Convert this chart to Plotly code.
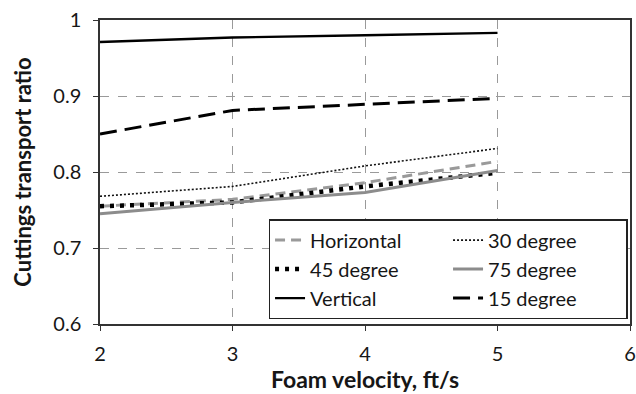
import plotly.graph_objects as go

# Foam velocity (ft/s)
velocity = [2, 3, 4, 5]

# Cuttings transport ratio by well inclination
horizontal = [0.755, 0.764, 0.786, 0.814]
deg30 = [0.768, 0.781, 0.808, 0.831]
deg45 = [0.755, 0.760, 0.781, 0.799]
deg75 = [0.745, 0.760, 0.773, 0.802]
vertical = [0.971, 0.977, 0.980, 0.983]
deg15 = [0.850, 0.881, 0.889, 0.897]

x_ticks = [2, 3, 4, 5, 6]
y_ticks = [0.6, 0.7, 0.8, 0.9, 1.0]
y_tick_text = ["0.6", "0.7", "0.8", "0.9", "1"]

FONT = "Lato, Noto Sans, sans-serif"
TEXT = "#161616"

series = [
    ("Horizontal", horizontal, dict(color="#9a9a9a", width=3, dash="10px,6px")),
    ("30 degree", deg30, dict(color="#111111", width=1.6, dash="2px,2px")),
    ("45 degree", deg45, dict(color="#000000", width=4.5, dash="4px,6px")),
    ("75 degree", deg75, dict(color="#8c8c8c", width=3, dash="solid")),
    ("Vertical", vertical, dict(color="#000000", width=2.4, dash="solid")),
    ("15 degree", deg15, dict(color="#000000", width=3, dash="17px,8px")),
]

fig = go.Figure()
for name, values, line in series:
    fig.add_trace(go.Scatter(
        x=velocity, y=values, mode="lines", name=name,
        line=dict(shape="linear", **line),
    ))

fig.update_layout(
    width=636, height=394,
    margin=dict(l=100, r=6, t=20, b=70, autoexpand=False),
    paper_bgcolor="white", plot_bgcolor="white",
    font=dict(family=FONT, size=20, color=TEXT),
    showlegend=True,
    legend=dict(
        orientation="h",
        x=0.318, xanchor="left",
        y=0.345, yanchor="top",
        bgcolor="white",
        bordercolor="#222222", borderwidth=1.5,
        entrywidth=133, entrywidthmode="pixels",
        font=dict(family=FONT, size=20, color=TEXT),
        tracegroupgap=0,
    ),
)

fig.update_xaxes(
    range=[2, 6], tickvals=x_ticks,
    showline=True, linecolor="#333333", linewidth=1.5, mirror=True,
    ticks="outside", ticklen=5, tickcolor="#333333", ticklabelstandoff=6,
    tickfont=dict(family=FONT, size=20, color=TEXT),
    showgrid=True, gridcolor="#9a9a9a", griddash="dash", gridwidth=1,
    zeroline=False,
    title=dict(text="<b>Foam velocity, ft/s</b>", font=dict(family=FONT, size=23, color=TEXT), standoff=8),
)
fig.update_yaxes(
    range=[0.6, 1.0], tickvals=y_ticks, ticktext=y_tick_text,
    showline=True, linecolor="#333333", linewidth=1.5, mirror=True,
    ticks="outside", ticklen=5, tickcolor="#333333", ticklabelstandoff=8,
    tickfont=dict(family=FONT, size=20, color=TEXT),
    showgrid=True, gridcolor="#9a9a9a", griddash="dash", gridwidth=1,
    zeroline=False,
    title=dict(text="<b>Cuttings transport ratio</b>", font=dict(family=FONT, size=22, color=TEXT), standoff=16),
)

fig.write_html("out.html")
